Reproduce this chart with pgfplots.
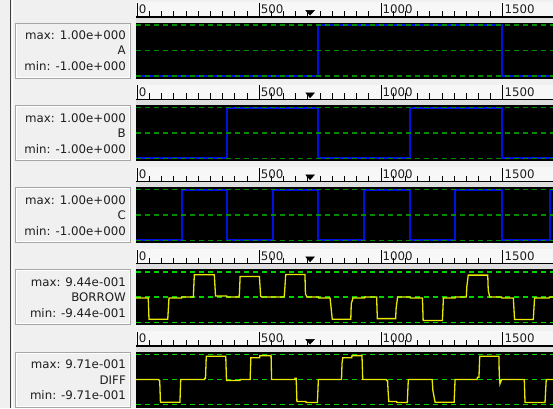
\documentclass[border=0pt]{standalone}
\usepackage{pgfplots}
\pgfplotsset{compat=1.18}
\usepackage{fontspec}
\setmainfont{DejaVu Sans}
\definecolor{bg}{HTML}{F0F0F0}
\definecolor{rulerbg}{HTML}{F7F7F7}
\definecolor{stripbg}{HTML}{DEDEDE}
\definecolor{gridA}{HTML}{008C00}
\definecolor{gridB}{HTML}{00D200}
\definecolor{sigblue}{HTML}{0010E0}
\definecolor{sigyel}{HTML}{E8E800}
\definecolor{txt}{HTML}{1E1E1E}

\pgfplotsset{
  plotpanel/.style={scale only axis, width=424pt, height=55pt,
    xmin=-5.3, xmax=1734.5, anchor=south west,
    axis background/.style={fill=black}, ticks=none,
    axis line style={black}, clip=true},
  rulerpanel/.style={scale only axis, width=424pt, height=14pt,
    xmin=-5.3, xmax=1734.5, ymin=0, ymax=14, anchor=south west,
    axis x line=bottom, axis y line=none,
    x axis line style={-, line width=1.3pt, black},
    xtick={0,500,1000,1500}, xticklabels={0,500,1000,1500},
    minor x tick num=9, xtick align=inside,
    major tick length=14pt, minor tick length=6pt,
    every tick/.style={black, line width=0.8pt},
    xticklabel style={anchor=south west, inner sep=0pt, xshift=1.5pt, yshift=3pt,
      font=\fontsize{11.8}{13}\selectfont, text=txt},
    clip=false},
  gline/.style={dash pattern=on 5pt off 4pt, line width=1.4pt},
  bline/.style={sigblue, line width=2pt, const plot mark left},
}

\newcommand{\labelbox}[4]{%
  \draw[draw=white, line width=1pt] (16pt,#1pt+1pt) rectangle (129pt,#1pt+54pt);
  \draw[draw=gray!70, line width=0.8pt] (15pt,#1pt) rectangle (130pt,#1pt+55pt);
  \node[anchor=base east, inner sep=0pt, text=txt] at (126pt,#1pt+38.5pt) {#2};
  \node[anchor=base east, inner sep=0pt, text=txt] at (126pt,#1pt+23pt) {#3};
  \node[anchor=base east, inner sep=0pt, text=txt] at (126pt,#1pt+7.5pt) {#4};
}
\newcommand{\rulerband}[1]{%
  \fill[rulerbg] (136pt,#1pt+55pt) rectangle (553pt,#1pt+76pt);
  \fill[stripbg] (136pt,#1pt+55pt) rectangle (553pt,#1pt+61pt);
}
\newcommand{\cursor}{\addplot[only marks, mark=triangle*, mark size=4pt, mark options={rotate=180, xscale=1.25, yscale=0.8, fill=black, draw=black}] coordinates {(709,5)};}

\begin{document}
\fontsize{11.8}{14}\selectfont
\begin{tikzpicture}
\useasboundingbox (0pt,0pt) rectangle (553pt,408pt);
\fill[bg] (0pt,0pt) rectangle (553pt,408pt);
\draw[black!75, line width=1.6pt] (10.5pt,0pt) -- (10.5pt,408pt);
\draw[white, line width=0.8pt] (12.3pt,0pt) -- (12.3pt,408pt);

% bands
\rulerband{330}
\rulerband{247.5}
\rulerband{165.5}
\rulerband{83.5}
\rulerband{1}

% label boxes
\labelbox{330}{max: 1.00e+000}{A}{min: -1.00e+000}
\labelbox{247.5}{max: 1.00e+000}{B}{min: -1.00e+000}
\labelbox{165.5}{max: 1.00e+000}{C}{min: -1.00e+000}
\labelbox{83.5}{max: 9.44e-001}{BORROW}{min: -9.44e-001}
\labelbox{1}{max: 9.71e-001}{DIFF}{min: -9.71e-001}

% ---------- rulers ----------
\begin{axis}[rulerpanel, at={(136pt,391pt)}]
\cursor
\end{axis}
\begin{axis}[rulerpanel, at={(136pt,308.5pt)}]
\cursor
\end{axis}
\begin{axis}[rulerpanel, at={(136pt,226.5pt)}]
\cursor
\end{axis}
\begin{axis}[rulerpanel, at={(136pt,144.5pt)}]
\cursor
\end{axis}
\begin{axis}[rulerpanel, at={(136pt,62pt)}]
\cursor
\end{axis}

% ---------- A ----------
\begin{axis}[plotpanel, at={(136pt,330pt)}, ymin=-1.08, ymax=1.08]
\addplot[bline] coordinates {(-5.3,-1) (743,1) (1495,-1) (1740,-1)};
\addplot[gridA, gline] coordinates {(-5.3,1) (1740,1)};
\addplot[gridA, gline] coordinates {(-5.3,0) (1740,0)};
\addplot[gridA, gline] coordinates {(-5.3,-1) (1740,-1)};
\end{axis}

% ---------- B ----------
\begin{axis}[plotpanel, at={(136pt,247.5pt)}, ymin=-1.08, ymax=1.08]
\addplot[bline] coordinates {(-5.3,-1) (367,1) (743,-1) (1119,1) (1495,-1) (1740,-1)};
\addplot[gridA, gline] coordinates {(-5.3,1) (1740,1)};
\addplot[gridA, gline] coordinates {(-5.3,0) (1740,0)};
\addplot[gridA, gline] coordinates {(-5.3,-1) (1740,-1)};
\end{axis}

% ---------- C ----------
\begin{axis}[plotpanel, at={(136pt,165.5pt)}, ymin=-1.08, ymax=1.08]
\addplot[bline] coordinates {(-5.3,-1) (182,1) (367,-1) (558,1) (743,-1) (932,1) (1119,-1) (1304,1) (1495,-1) (1695,1) (1740,1)};
\addplot[gridA, gline] coordinates {(-5.3,1) (1740,1)};
\addplot[gridA, gline] coordinates {(-5.3,0) (1740,0)};
\addplot[gridA, gline] coordinates {(-5.3,-1) (1740,-1)};
\end{axis}

% ---------- BORROW ----------
\begin{axis}[plotpanel, at={(136pt,83.5pt)}, ymin=-1.03, ymax=1.03]
\addplot[gridB, gline] coordinates {(-5.3,0.944) (1740,0.944)};
\addplot[gridB, gline] coordinates {(-5.3,0) (1740,0)};
\addplot[gridB, gline] coordinates {(-5.3,-0.944) (1740,-0.944)};
\addplot[sigyel, line width=1.3pt] coordinates {(-5.3,-0.04) (45,-0.04) (48,-0.83) (125,-0.83) (130,-0.04) (182,-0.04) (183,0) (230,0) (234,0.83) (316,0.83) (321,0.04) (367,0.04) (368,0) (417,0) (419,0.12) (422,0.77) (501,0.77) (506,0.04) (510,0) (602,0) (604,0.12) (609,0.84) (688,0.84) (690,0.12) (696,0) (743,0) (744,-0.04) (791,-0.04) (800,-0.83) (876,-0.83) (878,-0.25) (885,-0.04) (932,-0.04) (933,0) (982,0) (985,-0.81) (1060,-0.81) (1062,-0.43) (1068,0) (1119,0) (1120,-0.04) (1170,-0.04) (1173,-0.88) (1252,-0.88) (1256,-0.04) (1304,-0.04) (1305,0) (1350,0) (1352,0.37) (1358,0.82) (1438,0.82) (1440,0.25) (1446,0) (1495,0) (1496,-0.04) (1543,-0.04) (1548,-0.84) (1625,-0.84) (1630,-0.04) (1690,-0.04) (1691,0) (1740,0)};
\end{axis}

% ---------- DIFF ----------
\begin{axis}[plotpanel, at={(136pt,1pt)}, ymin=-1.06, ymax=1.06]
\addplot[gridB, gline] coordinates {(-5.3,0.971) (1740,0.971)};
\addplot[gridB, gline] coordinates {(-5.3,0) (1740,0)};
\addplot[gridB, gline] coordinates {(-5.3,-0.971) (1740,-0.971)};
\addplot[sigyel, line width=1.3pt] coordinates {(-5.3,0) (88,0) (90,-0.04) (92,-0.04) (95,-0.88) (175,-0.88) (178,0) (276,0) (277,0.05) (280,0.05) (283,0.90) (363,0.90) (366,-0.04) (421,-0.04) (422,0) (463,0) (466,0.84) (502,0.84) (503,0.92) (549,0.92) (551,0) (646,0) (647,0.05) (652,0.05) (655,-0.85) (692,-0.85) (693,-0.89) (739,-0.89) (743,0) (838,0) (840,0.61) (843,0.84) (880,0.84) (881,0.92) (922,0.92) (925,0) (1022,0) (1023,-0.04) (1027,-0.04) (1029,-0.43) (1032,-0.85) (1064,-0.85) (1065,-0.89) (1108,-0.89) (1112,0) (1210,0) (1213,-0.43) (1222,-0.88) (1300,-0.88) (1304,0) (1394,0) (1396,0.09) (1402,0.09) (1405,0.90) (1484,0.90) (1485,0.22) (1488,-0.17) (1495,0) (1588,0) (1591,-0.89) (1673,-0.89) (1678,0) (1740,0)};
\end{axis}
\end{tikzpicture}
\end{document}
